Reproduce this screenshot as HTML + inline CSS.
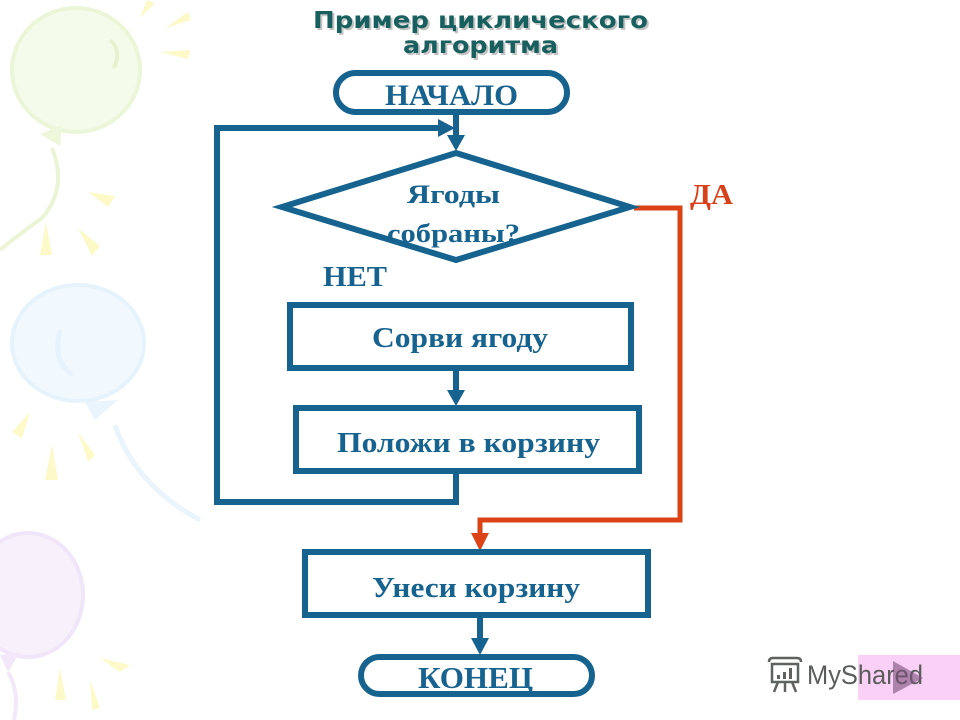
<!DOCTYPE html>
<html>
<head>
<meta charset="utf-8">
<style>
html,body{margin:0;padding:0;background:#fff;}
body{width:960px;height:720px;overflow:hidden;}
svg{display:block;}
</style>
</head>
<body>
<svg width="960" height="720" viewBox="0 0 960 720" xmlns="http://www.w3.org/2000/svg">
  <rect width="960" height="720" fill="#ffffff"/>

  <!-- background balloons -->
  <g>
    <!-- green balloon -->
    <ellipse cx="76" cy="70" rx="64" ry="62" fill="#f5fbea" stroke="#ebf5d8" stroke-width="4"/>
    <path d="M110 40 q12 10 4 28" fill="none" stroke="#e6f2cf" stroke-width="4"/>
    <polygon points="40,134 62,125 60,146" fill="#eef7dc"/>
    <path d="M52 148 q16 40 -10 70 q-25 18 -42 32" fill="none" stroke="#ebf5d6" stroke-width="4"/>
    <!-- blue balloon -->
    <ellipse cx="78" cy="343" rx="66" ry="58" fill="#f2f9fe" stroke="#e6f3fc" stroke-width="4"/>
    <path d="M60 330 q-8 30 12 45" fill="none" stroke="#e6f3fc" stroke-width="5"/>
    <polygon points="85,402 118,400 95,420" fill="#e9f4fc"/>
    <path d="M115 425 q20 60 85 95" fill="none" stroke="#e9f4fc" stroke-width="5"/>
    <!-- lilac balloon -->
    <ellipse cx="28" cy="595" rx="55" ry="62" fill="#f8f1fc" stroke="#f1e5f9" stroke-width="4"/>
    <polygon points="0,655 20,652 8,672" fill="#f3e8f9"/>
    <path d="M8 672 q12 20 6 48" fill="none" stroke="#f3e8f9" stroke-width="4"/>
    <!-- yellow rays -->
    <g fill="#fdf9c8">
      <polygon points="140,18 147,0 155,3"/>
      <polygon points="165,28 188,12 191,20"/>
      <polygon points="160,52 190,50 188,59"/>
      <polygon points="88,192 115,196 108,207"/>
      <polygon points="40,255 46,222 52,255"/>
      <polygon points="78,228 100,246 92,256"/>
      <polygon points="12,432 30,412 22,438"/>
      <polygon points="45,480 52,445 58,480"/>
      <polygon points="78,432 95,455 88,462"/>
      <polygon points="100,658 130,665 120,672"/>
      <polygon points="55,700 60,668 66,700"/>
      <polygon points="90,680 100,708 92,710"/>
    </g>
  </g>

  <!-- title -->
  <g font-family="'DejaVu Sans','Liberation Sans',sans-serif" font-weight="bold" font-size="23">
    <text x="315" y="30" textLength="335" lengthAdjust="spacingAndGlyphs" fill="#c4c4c4">Пример циклического</text>
    <text x="405" y="55" textLength="155" lengthAdjust="spacingAndGlyphs" fill="#c4c4c4">алгоритма</text>
    <text x="313" y="28" textLength="335" lengthAdjust="spacingAndGlyphs" fill="#18605f">Пример циклического</text>
    <text x="403" y="53" textLength="155" lengthAdjust="spacingAndGlyphs" fill="#18605f">алгоритма</text>
  </g>

  <!-- blue connectors -->
  <g fill="none" stroke="#176390" stroke-width="6" stroke-linejoin="miter">
    <line x1="456" y1="112" x2="456" y2="137"/>
    <polyline points="456,474 456,502 217,502 217,128 440,128"/>
    <line x1="456" y1="371" x2="456" y2="392"/>
    <line x1="480" y1="618" x2="480" y2="640"/>
  </g>
  <g fill="#176390">
    <polygon points="447,135 465,135 456,151"/>
    <polygon points="438,119 438,137 455,128"/>
    <polygon points="447,390 465,390 456,406"/>
    <polygon points="471,638 489,638 480,655"/>
  </g>

  <!-- red connector -->
  <polyline points="634,208 680,208 680,520 480,520 480,535" fill="none" stroke="#dc4418" stroke-width="5"/>
  <polygon points="471,533 489,533 480,551" fill="#dc4418"/>

  <!-- shapes -->
  <g fill="#ffffff" stroke="#176390" stroke-width="6">
    <rect x="336" y="73" width="231" height="39" rx="19.5" ry="19.5"/>
    <polygon points="456,153 630,207 456,260 282,207" stroke-linejoin="miter" stroke-miterlimit="10"/>
    <rect x="290" y="305" width="341" height="63"/>
    <rect x="296" y="408" width="343" height="63"/>
    <rect x="305" y="552" width="343" height="63"/>
    <rect x="361" y="657" width="231" height="37" rx="18.5" ry="18.5"/>
  </g>

  <!-- labels -->
  <g font-family="'Liberation Serif','Times New Roman',serif" font-weight="bold" fill="#176390">
    <text x="385" y="105" font-size="30" textLength="133" lengthAdjust="spacingAndGlyphs">НАЧАЛО</text>
    <text x="407" y="203" font-size="26" textLength="93" lengthAdjust="spacingAndGlyphs">Ягоды</text>
    <text x="387" y="242" font-size="26" textLength="133" lengthAdjust="spacingAndGlyphs">собраны?</text>
    <text x="323" y="286" font-size="29" textLength="64" lengthAdjust="spacingAndGlyphs">НЕТ</text>
    <text x="372" y="347" font-size="29" textLength="176" lengthAdjust="spacingAndGlyphs">Сорви ягоду</text>
    <text x="337" y="452" font-size="29" textLength="263" lengthAdjust="spacingAndGlyphs">Положи в корзину</text>
    <text x="372" y="597" font-size="29" textLength="208" lengthAdjust="spacingAndGlyphs">Унеси  корзину</text>
    <text x="418" y="688" font-size="31" textLength="115" lengthAdjust="spacingAndGlyphs">КОНЕЦ</text>
    <text x="690" y="204" font-size="29" textLength="43" lengthAdjust="spacingAndGlyphs" fill="#d8401a">ДА</text>
  </g>

  <!-- watermark -->
  <rect x="858" y="655" width="102" height="45" fill="#fbd0f6"/>
  <g fill="none" stroke="#5e6360" stroke-width="2.5">
    <rect x="772" y="664" width="26" height="18"/>
    <path d="M769 662 q0 -4 4 -4 h24 q4 0 4 4"/>
    <line x1="778" y1="682" x2="774" y2="692"/>
    <line x1="785" y1="682" x2="785" y2="692"/>
    <line x1="792" y1="682" x2="796" y2="692"/>
  </g>
  <g fill="#5e6360">
    <rect x="777" y="675" width="3" height="4"/>
    <rect x="783" y="672" width="3" height="7"/>
    <rect x="789" y="668" width="3" height="11"/>
  </g>
  <text x="807" y="684" font-family="'Liberation Sans','DejaVu Sans',sans-serif" font-size="27" fill="#5a5d5c" textLength="116" lengthAdjust="spacingAndGlyphs">MyShared</text>
  <polygon points="893,661 893,694 923,678" fill="#7a4f7a" fill-opacity="0.6"/>
</svg>
</body>
</html>
